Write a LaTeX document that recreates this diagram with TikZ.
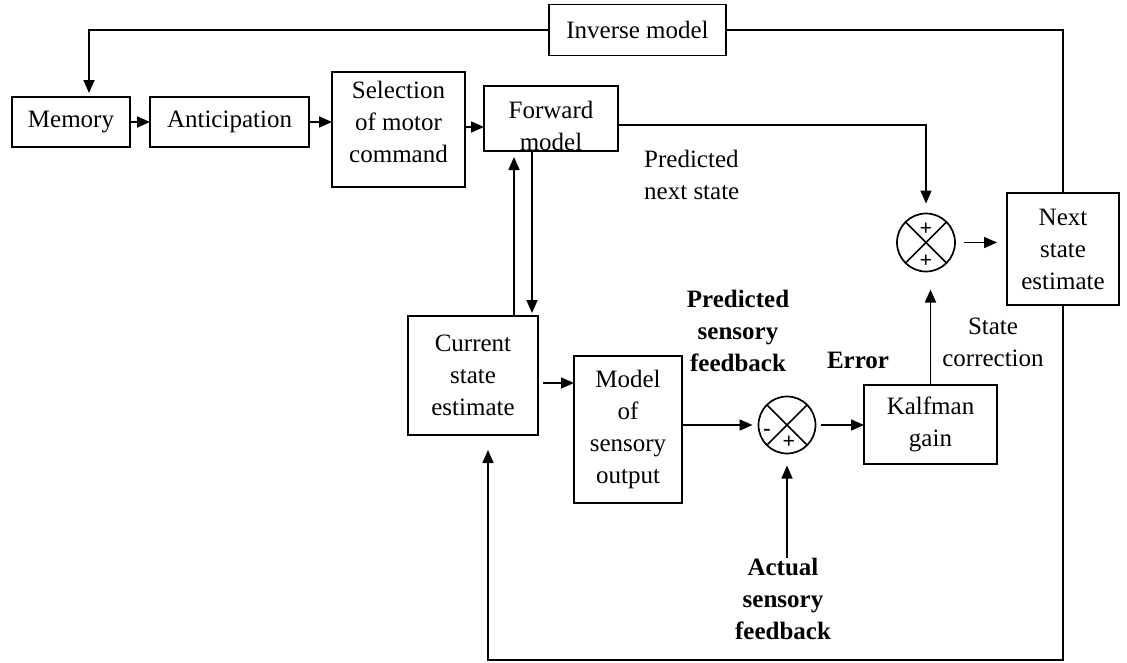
\documentclass[tikz,border=0pt]{standalone}
\usepackage{fontspec}
\setmainfont{Liberation Serif}
\usetikzlibrary{arrows.meta,calc}
\begin{document}
\begin{tikzpicture}[x=1pt,y=-1pt,
  box/.style={draw,line width=1.7pt,inner sep=0pt,outer sep=0pt,align=center,font=\fontsize{25}{32}\selectfont},
  lbl/.style={inner sep=0pt,align=center,font=\fontsize{25}{32}\selectfont},
  blbl/.style={inner sep=0pt,align=center,font=\fontsize{25}{32}\selectfont\bfseries},
  sum/.style={draw,circle,line width=1.7pt,minimum size=58pt,inner sep=0pt,outer sep=0pt},
  arr/.style={line width=1.7pt,-{Triangle[length=13pt,width=11pt]}},
  ln/.style={line width=1.7pt},
  sgn/.style={inner sep=0pt,font=\fontsize{22}{22}\selectfont\bfseries}]
\useasboundingbox[fill=white] (0,0) rectangle (1127,662);
% boxes
\node[box,minimum width=177pt,minimum height=51pt] (inv) at (637.5,30) {Inverse model};
\node[box,minimum width=118pt,minimum height=50pt] (mem) at (71,122) {Memory};
\node[box,minimum width=159pt,minimum height=50pt] (ant) at (229.5,122) {Anticipation};
\node[box,minimum width=133pt,minimum height=115pt] (sel) at (398.5,129.5) {};
\node[lbl] (selt) at (398.5,122) {Selection\\of motor\\command};
\node[box,minimum width=134pt,minimum height=65pt] (fwd) at (551,118.5) {};
\node[lbl] (fwdt) at (551,126) {Forward\\model};
\node[box,minimum width=130pt,minimum height=119pt] (cur) at (473,375.5) {Current\\state\\estimate};
\node[box,minimum width=108pt,minimum height=147pt] (mod) at (628,429.5) {Model\\of\\sensory\\output};
\node[box,minimum width=133pt,minimum height=79pt] (kal) at (930.5,424.5) {Kalfman\\gain};
\node[box,minimum width=112pt,minimum height=112pt] (nxt) at (1063,249) {Next\\state\\estimate};
% summing junctions
\node[sum] (s1) at (926,242.5) {};
\node[sum,minimum size=57pt] (s2) at (787,425) {};
\foreach \s in {s1,s2} {
  \draw[ln] (\s.north west) -- (\s.south east) (\s.north east) -- (\s.south west);
}
\node[sgn] (p1) at (926,229) {+};
\node[sgn] (p2) at (926,261) {+};
\node[sgn] (m3) at (767,432) {-};
\node[sgn] (p4) at (789,442) {+};
% labels
\node[lbl,align=left,anchor=west] (pns) at (644,175) {Predicted\\next state};
\node[blbl] (psf) at (738,331) {Predicted\\sensory\\feedback};
\node[blbl] (err) at (858,360) {Error};
\node[lbl] (sc) at (993,342) {State\\correction};
\node[blbl] (asf) at (783,599) {Actual\\sensory\\feedback};
% connectors
\draw[arr,shorten >=4pt] (inv.west) -| ([xshift=18pt]mem.north);
\draw[ln] (inv.east) -| (nxt.north);
\draw[arr] (mem.east) -- (mem.east -| ant.west);
\draw[arr] (ant.east) -- (ant.east -| sel.west);
\coordinate (a3) at ([yshift=2.5pt]sel.east);
\draw[arr] (a3) -- (a3 -| fwd.west);
\coordinate (f1) at ([yshift=-6.5pt]fwd.east);
\draw[arr,shorten >=10pt] (f1) -| (s1.north);
\draw[arr,shorten <=9pt,shorten >=10pt] (s1.east) -- (s1.east -| nxt.west);
\draw[arr,shorten >=18pt] (kal.north) -- (kal.north |- s1.south);
\coordinate (bl) at (488,660);
\draw[arr,shorten >=15pt] (nxt.south) |- (bl) -- (bl |- cur.south);
\draw[arr,shorten >=6pt] ([xshift=41pt]cur.north) -- ([xshift=41pt]cur.north |- fwd.south);
\draw[arr,shorten >=3pt] ([xshift=59pt]cur.north |- fwd.south) -- ([xshift=59pt]cur.north);
\coordinate (c1) at ([yshift=-7.5pt]cur.east);
\draw[arr,shorten <=5pt] (c1) -- (c1 -| mod.west);
\draw[arr,shorten >=6pt] (s2.west -| mod.east) -- (s2.west);
\draw[arr,shorten <=5pt] (s2.east) -- (s2.east -| kal.west);
\draw[arr,shorten >=12pt] (s2.south |- asf.north) -- (s2.south);
\end{tikzpicture}
\end{document}
